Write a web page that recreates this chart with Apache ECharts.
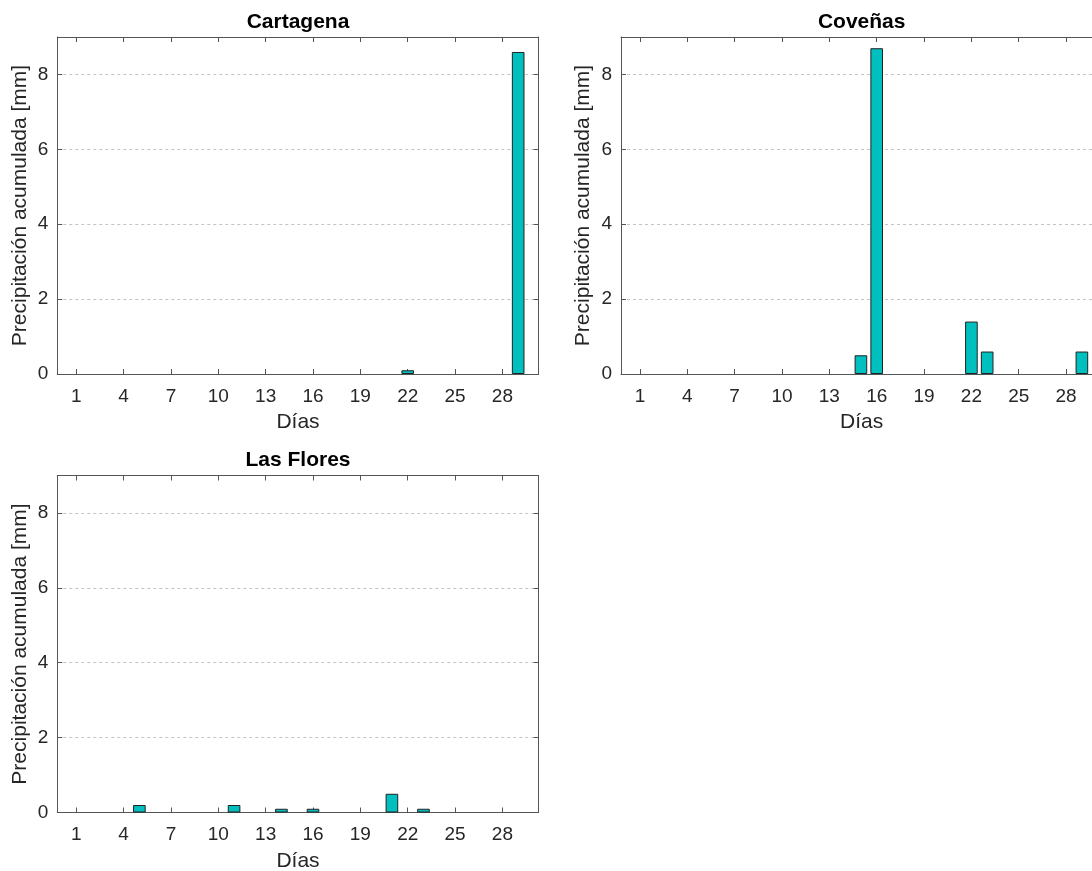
<!DOCTYPE html>
<html>
<head>
<meta charset="utf-8">
<title>Precipitación acumulada</title>
<script src="https://cdn.jsdelivr.net/npm/echarts@6/dist/echarts.min.js"></script>
<style>
	html, body { margin: 0; padding: 0; background: #fff; }
	#chart { width: 1092px; height: 871px; }
</style>
</head>
<body>
<div id="chart"></div>
<script>
// days of the month and the tick labels shown
const days = [1, 2, 3, 4, 5, 6, 7, 8, 9, 10, 11, 12, 13, 14, 15, 16, 17, 18, 19, 20, 21, 22, 23, 24, 25, 26, 27, 28, 29, 30];
const dayTicks = [1, 4, 7, 10, 13, 16, 19, 22, 25, 28];
const yTicks = [0, 2, 4, 6, 8];

const stations = ['Cartagena', 'Coveñas', 'Las Flores'];

// daily accumulated precipitation [mm]
const cartagena = [0, 0, 0, 0, 0, 0, 0, 0, 0, 0, 0, 0, 0, 0, 0, 0, 0, 0, 0, 0, 0, 0.1, 0, 0, 0, 0, 0, 0, 8.6, 0];
const covenas   = [0, 0, 0, 0, 0, 0, 0, 0, 0, 0, 0, 0, 0, 0, 0.5, 8.7, 0, 0, 0, 0, 0, 1.4, 0.6, 0, 0, 0, 0, 0, 0.6, 0];
const lasFlores = [0, 0, 0, 0, 0.2, 0, 0, 0, 0, 0, 0.2, 0, 0, 0.1, 0, 0.1, 0, 0, 0, 0, 0.5, 0, 0.1, 0, 0, 0, 0, 0, 0, 0];

const values = [cartagena, covenas, lasFlores];

const font = "'Liberation Sans', Arial, Helvetica, sans-serif";
const textColor = '#262626';
const axisColor = '#555555';

// panel boxes (px); the second one runs past the right edge like the original
const panels = [
	{ left: 57.3, top: 37, titleTop: 12 },
	{ left: 621, top: 37, titleTop: 12 },
	{ left: 57.3, top: 475.5, titleTop: 450 }
];
const W = 481.4, H = 337;
const xMin = -0.2, xMax = 30.3;
const barW = 0.8 * W / (xMax - xMin);

let myChart = echarts.init(document.getElementById('chart'));

let grids = [], xAxes = [], yAxes = [], series = [], titles = [];

const lineStyle = { color: axisColor, width: 1 };

panels.forEach((p, i) => {
	grids.push({
		left: p.left, top: p.top, width: W, height: H,
		containLabel: false, outerBoundsMode: 'none'
	});

	titles.push({
		text: stations[i],
		left: p.left + W / 2,
		top: p.titleTop,
		textAlign: 'center',
		padding: 0,
		textStyle: { fontFamily: font, fontSize: 21, fontWeight: 'bold', color: '#000' }
	});

	xAxes.push({
		gridIndex: i, type: 'value', min: xMin, max: xMax, position: 'bottom',
		axisLine: { show: true, onZero: false, lineStyle: lineStyle },
		axisTick: { show: true, inside: true, length: 5, customValues: dayTicks, lineStyle: lineStyle },
		axisLabel: { customValues: dayTicks, fontFamily: font, fontSize: 19, color: textColor, margin: 13 },
		splitLine: { show: false },
		name: 'Días', nameLocation: 'middle', nameGap: 38,
		nameTextStyle: { fontFamily: font, fontSize: 21, color: textColor }
	});
	xAxes.push({
		gridIndex: i, type: 'value', min: xMin, max: xMax, position: 'top',
		axisLine: { show: true, onZero: false, lineStyle: lineStyle },
		axisTick: { show: true, inside: true, length: 5, customValues: dayTicks, lineStyle: lineStyle },
		axisLabel: { show: false },
		splitLine: { show: false }
	});

	yAxes.push({
		gridIndex: i, type: 'value', min: 0, max: 9, interval: 2, position: 'left',
		axisLine: { show: true, onZero: false, lineStyle: lineStyle },
		axisTick: { show: true, inside: true, length: 5, customValues: yTicks, lineStyle: lineStyle },
		axisLabel: { customValues: yTicks, fontFamily: font, fontSize: 19, color: textColor, margin: 9 },
		splitLine: { show: true, lineStyle: { color: '#c4c4c4', width: 1, type: [3, 3] } },
		name: 'Precipitación acumulada [mm]', nameLocation: 'middle', nameGap: 27,
		nameTextStyle: { fontFamily: font, fontSize: 21, color: textColor }
	});
	yAxes.push({
		gridIndex: i, type: 'value', min: 0, max: 9, position: 'right',
		axisLine: { show: true, onZero: false, lineStyle: lineStyle },
		axisTick: { show: true, inside: true, length: 5, customValues: yTicks, lineStyle: lineStyle },
		axisLabel: { show: false },
		splitLine: { show: false }
	});

	series.push({
		name: stations[i],
		type: 'bar',
		xAxisIndex: 2 * i,
		yAxisIndex: 2 * i,
		barWidth: barW,
		data: days.map((d, k) => [d, values[i][k]]).filter(v => v[1] > 0),
		itemStyle: { color: '#00BFBF', borderColor: '#222222', borderWidth: 1 },
		silent: true
	});
});

myChart.setOption({
	animation: false,
	title: titles,
	grid: grids,
	xAxis: xAxes,
	yAxis: yAxes,
	series: series
});
</script>
</body>
</html>
